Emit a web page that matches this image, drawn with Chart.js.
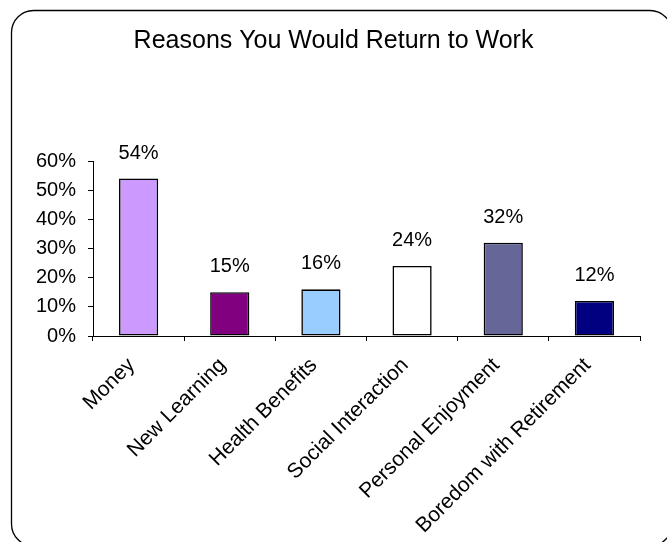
<!DOCTYPE html>
<html lang="en">
  <head>
    <meta charset="UTF-8" />
    <title>Reasons You Would Return to Work</title>
    <script src="https://cdn.jsdelivr.net/npm/chart.js"></script>
    <style>
      body {
        margin: 0;
        background: #fff;
      }
      canvas {
        display: block;
      }
    </style>
  </head>
  <body>
    <canvas id="reasonsChart" width="667" height="542"></canvas>

    <script>
      const reasons = [
        "Money",
        "New Learning",
        "Health Benefits",
        "Social Interaction",
        "Personal Enjoyment",
        "Boredom with Retirement",
      ];
      const percents = [54, 15, 16, 24, 32, 12];
      const barColors = ["#CC99FF", "#800080", "#99CCFF", "#FFFFFF", "#666699", "#000080"];
      const yTicks = [0, 10, 20, 30, 40, 50, 60];

      const font = "'Liberation Sans', Arial, sans-serif";

      // rounded frame around the whole chart
      const framePlugin = {
        id: "frame",
        beforeDraw(chart) {
          const ctx = chart.ctx;
          const l = 11.5, t = 10.5, r = 672, b = 546, rad = 22;
          ctx.save();
          ctx.strokeStyle = "#000";
          ctx.lineWidth = 1.3;
          ctx.beginPath();
          ctx.moveTo(l + rad, t);
          ctx.lineTo(r - rad, t);
          ctx.arcTo(r, t, r, t + rad, rad);
          ctx.lineTo(r, b - rad);
          ctx.arcTo(r, b, r - rad, b, rad);
          ctx.lineTo(l + rad, b);
          ctx.arcTo(l, b, l, b - rad, rad);
          ctx.lineTo(l, t + rad);
          ctx.arcTo(l, t, l + rad, t, rad);
          ctx.stroke();
          ctx.restore();
        },
      };

      // percentage labels above each bar
      const valueLabels = {
        id: "valueLabels",
        afterDatasetsDraw(chart) {
          const ctx = chart.ctx;
          const meta = chart.getDatasetMeta(0);
          ctx.save();
          ctx.fillStyle = "#000";
          ctx.font = "20px " + font;
          ctx.textAlign = "center";
          ctx.textBaseline = "alphabetic";
          meta.data.forEach((bar, i) => {
            ctx.fillText(percents[i] + "%", bar.x, bar.y - 20);
          });
          ctx.restore();
        },
      };

      new Chart(document.getElementById("reasonsChart").getContext("2d"), {
        type: "bar",
        data: {
          labels: reasons,
          datasets: [
            {
              data: percents,
              backgroundColor: barColors,
              borderColor: "#000",
              borderWidth: 1.6,
              borderSkipped: false,
              categoryPercentage: 1,
              barPercentage: 0.43,
            },
          ],
        },
        options: {
          responsive: false,
          animation: false,
          plugins: {
            legend: { display: false },
            tooltip: { enabled: false },
            title: {
              display: true,
              text: "Reasons You Would Return to Work",
              color: "#000",
              font: { family: font, size: 25, weight: "normal" },
              padding: { top: 26, bottom: 105 },
            },
          },
          scales: {
            x: {
              grid: {
                drawOnChartArea: false,
                drawTicks: true,
                tickLength: 5,
                color: "#000",
                offset: true,
              },
              border: { display: true, color: "#000", width: 1 },
              ticks: {
                color: "#000",
                font: { family: font, size: 21 },
                minRotation: 45,
                maxRotation: 45,
                padding: 12,
                labelOffset: -7,
                autoSkip: false,
              },
              afterFit(scale) {
                scale.height = 206;
              },
            },
            y: {
              min: 0,
              max: 60,
              afterBuildTicks(scale) {
                scale.ticks = yTicks.map((v) => ({ value: v }));
              },
              grid: {
                drawOnChartArea: false,
                drawTicks: true,
                tickLength: 5,
                color: "#000",
              },
              border: { display: true, color: "#000", width: 1 },
              ticks: {
                color: "#000",
                font: { family: font, size: 20 },
                padding: 12,
                callback: (v) => v + "%",
              },
              afterFit(scale) {
                scale.width = 93;
              },
            },
            // empty strip on the right so the plot stops short of the frame
            spacer: {
              position: "right",
              grid: { display: false },
              border: { display: false },
              ticks: { display: false },
              afterFit(scale) {
                scale.width = 27;
              },
            },
          },
        },
        plugins: [framePlugin, valueLabels],
      });
    </script>
  </body>
</html>
